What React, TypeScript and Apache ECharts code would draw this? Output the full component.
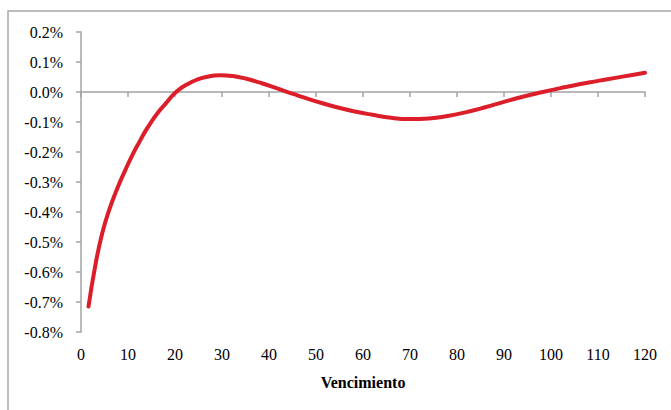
import React, { useEffect, useRef } from "react";
import * as echarts from "echarts";

// Maturity (x) and spread value in percent (y)
const maturities = [
  1.6, 3, 4.5, 6, 8, 9.4, 10.9, 12.4, 13.8, 15.2, 16.6, 18.1, 19.5, 20.9,
  22.4, 24.5, 26.6, 29.5, 32.3, 35.2, 38.1, 40.5, 43.5, 46, 50, 54, 58, 62, 66,
  70, 74, 78, 82, 86, 90, 94, 98, 102, 106, 110, 114, 117, 120,
];
const values = [
  -0.715, -0.582, -0.472, -0.393, -0.311, -0.261, -0.211, -0.167, -0.128,
  -0.094, -0.064, -0.037, -0.011, 0.009, 0.024, 0.04, 0.05, 0.056, 0.053,
  0.044, 0.031, 0.019, 0.002, -0.011, -0.031, -0.049, -0.064, -0.076, -0.086,
  -0.09, -0.088, -0.08, -0.067, -0.051, -0.033, -0.016, -0.001, 0.013, 0.026,
  0.037, 0.048, 0.056, 0.064,
];

const xAxisTitle = "Vencimiento";
const FONT = "'Liberation Serif', 'Times New Roman', serif";
const AXIS_GREY = "#a3a3a3";

export default function App() {
  const ref = useRef<HTMLDivElement>(null);

  useEffect(() => {
    if (!ref.current) return;
    const chart = echarts.init(ref.current, null, { renderer: "svg" });
    const points = maturities.map((m, i) => [m, values[i]]);

    chart.setOption({
      animation: false,
      backgroundColor: "#ffffff",
      textStyle: { fontFamily: FONT },
      grid: { left: 81, top: 32, right: 26, bottom: 78, containLabel: false },
      graphic: [
        {
          type: "rect",
          shape: { x: 8, y: 11, width: 720, height: 460 },
          style: { fill: "none", stroke: "#a8a8a8", lineWidth: 1.5 },
          silent: true,
          z: -1,
        },
      ],
      xAxis: [
        {
          type: "value",
          position: "bottom",
          min: 0,
          max: 120,
          interval: 10,
          axisLine: { show: false, onZero: false },
          axisTick: { show: false },
          splitLine: { show: false },
          axisLabel: {
            fontFamily: FONT,
            fontSize: 16,
            color: "#000",
            margin: 14,
          },
          name: xAxisTitle,
          nameLocation: "middle",
          nameGap: 42,
          nameTextStyle: {
            fontFamily: FONT,
            fontSize: 16,
            fontWeight: "bold",
            color: "#000",
          },
        },
        {
          type: "value",
          position: "bottom",
          min: 0,
          max: 120,
          interval: 10,
          axisLine: {
            show: true,
            onZero: true,
            lineStyle: { color: AXIS_GREY, width: 1.5 },
          },
          axisTick: {
            show: true,
            inside: false,
            length: 5,
            lineStyle: { color: AXIS_GREY, width: 1.5 },
          },
          axisLabel: { show: false },
          splitLine: { show: false },
        },
      ],
      yAxis: {
        type: "value",
        min: -0.8,
        max: 0.2,
        interval: 0.1,
        axisLine: {
          show: true,
          onZero: false,
          lineStyle: { color: AXIS_GREY, width: 1.5 },
        },
        axisTick: {
          show: true,
          length: 5,
          lineStyle: { color: AXIS_GREY, width: 1.5 },
        },
        splitLine: { show: false },
        axisLabel: {
          fontFamily: FONT,
          fontSize: 16,
          color: "#000",
          margin: 18,
          formatter: (v: number) => {
            const r = Math.round(v * 10) / 10;
            return (Math.abs(r) < 1e-9 ? 0 : r).toFixed(1) + "%";
          },
        },
      },
      series: [
        {
          type: "line",
          xAxisIndex: 0,
          data: points,
          smooth: 0.5,
          showSymbol: false,
          symbol: "none",
          lineStyle: { color: "#dc1e2a", width: 4, cap: "round", join: "round" },
        },
      ],
    });

    return () => chart.dispose();
  }, []);

  return (
    <div
      ref={ref}
      style={{ position: "fixed", left: 0, top: 0, width: 671, height: 410 }}
    />
  );
}
